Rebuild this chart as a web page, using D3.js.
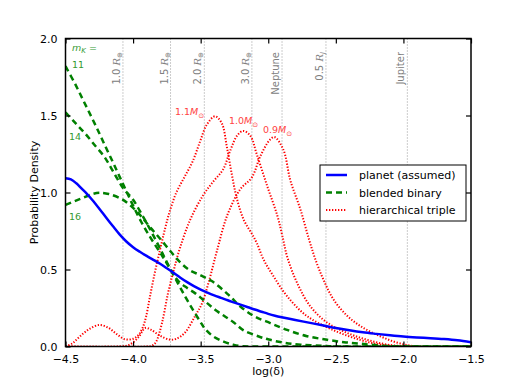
<!DOCTYPE html>
<html><head><meta charset="utf-8">
<script src="https://cdn.jsdelivr.net/npm/d3@7"></script>
<style>body{margin:0;background:#fff}svg{display:block}text{font-family:"DejaVu Sans",sans-serif}</style>
</head><body><svg id="c" width="526" height="386"></svg>
<script>
// ---- data ----
const xTicks = [-4.5, -4.0, -3.5, -3.0, -2.5, -2.0, -1.5];
const yTicks = [0.0, 0.5, 1.0, 1.5, 2.0];
const planet = [[-4.5,1.093],[-4.46,1.085],[-4.42,1.06],[-4.38,1.025],[-4.34,0.99],[-4.3,0.95],[-4.25,0.895],[-4.2,0.838],[-4.15,0.782],[-4.1,0.728],[-4.05,0.682],[-4.0,0.645],[-3.95,0.615],[-3.9,0.588],[-3.85,0.563],[-3.8,0.537],[-3.75,0.508],[-3.7,0.478],[-3.65,0.447],[-3.6,0.418],[-3.55,0.392],[-3.5,0.37],[-3.45,0.35],[-3.4,0.332],[-3.35,0.316],[-3.3,0.3],[-3.25,0.285],[-3.2,0.27],[-3.15,0.255],[-3.1,0.24],[-3.05,0.226],[-3.0,0.212],[-2.95,0.2],[-2.9,0.19],[-2.8,0.172],[-2.7,0.155],[-2.6,0.138],[-2.5,0.12],[-2.4,0.105],[-2.3,0.092],[-2.2,0.082],[-2.1,0.073],[-2.0,0.065],[-1.9,0.059],[-1.8,0.054],[-1.7,0.048],[-1.6,0.04],[-1.5,0.028]];
const binary11 = [[-4.5,1.82],[-4.426,1.70],[-4.364,1.59],[-4.302,1.48],[-4.25,1.385],[-4.2,1.29],[-4.151,1.2],[-4.114,1.13],[-4.077,1.06],[-4.04,0.99],[-4.0,0.915],[-3.94,0.81],[-3.87,0.705],[-3.8,0.61],[-3.765,0.56],[-3.716,0.49],[-3.653,0.385],[-3.579,0.27],[-3.505,0.164],[-3.468,0.115],[-3.406,0.065],[-3.33,0.032],[-3.26,0.012],[-3.2,0.002],[-3.1,0],[-2.5,0],[-1.5,0]];
const binary14 = [[-4.5,1.52],[-4.426,1.45],[-4.352,1.38],[-4.277,1.3],[-4.215,1.235],[-4.166,1.165],[-4.117,1.09],[-4.067,1.02],[-4.005,0.96],[-3.95,0.88],[-3.88,0.77],[-3.82,0.67],[-3.76,0.565],[-3.71,0.48],[-3.66,0.42],[-3.6,0.38],[-3.54,0.345],[-3.49,0.31],[-3.443,0.275],[-3.38,0.23],[-3.32,0.195],[-3.257,0.158],[-3.183,0.105],[-3.07,0.065],[-2.996,0.045],[-2.88,0.024],[-2.76,0.012],[-2.6,0.004],[-2.5,0],[-2.0,0],[-1.5,0]];
const binary16 = [[-4.5,0.92],[-4.4,0.955],[-4.3,0.99],[-4.25,0.998],[-4.18,0.99],[-4.08,0.955],[-4.0,0.9],[-3.94,0.845],[-3.87,0.77],[-3.8,0.7],[-3.72,0.615],[-3.65,0.545],[-3.58,0.495],[-3.5,0.462],[-3.418,0.425],[-3.3,0.34],[-3.2,0.255],[-3.1,0.195],[-2.985,0.152],[-2.861,0.108],[-2.713,0.067],[-2.565,0.044],[-2.44,0.028],[-2.317,0.018],[-2.17,0.006],[-2.0,0],[-1.5,0]];
const triple11 = [[-4.5,0],[-4.45,0.02],[-4.4,0.06],[-4.33,0.11],[-4.25,0.14],[-4.18,0.12],[-4.12,0.08],[-4.06,0.047],[-4.0,0.05],[-3.96,0.075],[-3.93,0.12],[-3.905,0.19],[-3.876,0.32],[-3.839,0.48],[-3.8,0.63],[-3.765,0.76],[-3.728,0.88],[-3.68,1.0],[-3.62,1.1],[-3.56,1.2],[-3.505,1.33],[-3.455,1.44],[-3.394,1.495],[-3.344,1.45],[-3.307,1.3],[-3.27,1.12],[-3.232,0.96],[-3.18,0.82],[-3.12,0.73],[-3.084,0.67],[-3.035,0.565],[-2.961,0.456],[-2.861,0.327],[-2.713,0.197],[-2.515,0.105],[-2.317,0.042],[-2.168,0.012],[-2.02,0],[-1.5,0]];
const triple10 = [[-4.5,0],[-3.9,0],[-3.86,0.005],[-3.83,0.03],[-3.787,0.15],[-3.743,0.34],[-3.698,0.5],[-3.653,0.64],[-3.579,0.82],[-3.483,0.98],[-3.408,1.07],[-3.334,1.15],[-3.282,1.27],[-3.23,1.37],[-3.186,1.4],[-3.134,1.37],[-3.082,1.24],[-3.007,1.04],[-2.933,0.85],[-2.896,0.72],[-2.859,0.58],[-2.785,0.41],[-2.688,0.26],[-2.562,0.154],[-2.413,0.087],[-2.265,0.043],[-2.116,0.012],[-1.95,0],[-1.5,0]];
const triple09 = [[-4.5,0],[-4.1,0],[-4.03,0.01],[-3.96,0.06],[-3.91,0.12],[-3.87,0.11],[-3.8,0.07],[-3.73,0.045],[-3.68,0.05],[-3.616,0.09],[-3.542,0.197],[-3.49,0.28],[-3.44,0.42],[-3.38,0.62],[-3.304,0.85],[-3.208,1.02],[-3.12,1.1],[-3.059,1.235],[-2.99,1.34],[-2.955,1.36],[-2.889,1.28],[-2.837,1.08],[-2.762,0.89],[-2.70,0.7],[-2.651,0.565],[-2.592,0.435],[-2.517,0.305],[-2.413,0.197],[-2.295,0.12],[-2.168,0.065],[-2.042,0.024],[-1.9,0],[-1.5,0]];
const refLines = [-4.075, -3.723, -3.473, -3.121, -2.898, -2.573, -1.971];
const refNum = ["1.0 ", "1.5 ", "2.0 ", "3.0 ", "Neptune", "0.5 ", "Jupiter"];
const refSub = ["⊕", "⊕", "⊕", "⊕", "", "J", ""];
const massLabels = ["1.1", "1.0", "0.9"];
const magLabels = ["11", "14", "16"];
const legendLabels = ["planet (assumed)", "blended binary", "hierarchical triple"];

// ---- drawing ----
const svg = d3.select("#c");
const L = 65.5, R = 471, T = 38.5, B = 346.5;
const x = d3.scaleLinear().domain([-4.5, -1.5]).range([L, R]);
const y = d3.scaleLinear().domain([0, 2]).range([B, T]);
svg.append("clipPath").attr("id","cp").append("rect").attr("x",L).attr("y",T).attr("width",R-L).attr("height",B-T);

// reference lines
const gRef = svg.append("g");
refLines.forEach((v, i) => {
  gRef.append("line").attr("x1", x(v)).attr("x2", x(v)).attr("y1", T).attr("y2", B)
    .attr("stroke", "#999").attr("stroke-width", 1).attr("stroke-dasharray", "1,2");
  const t = gRef.append("text").attr("transform", `translate(${x(v) - 3},52) rotate(-90)`)
    .attr("text-anchor", "end").attr("fill", "#808080").attr("font-size", 10);
  t.append("tspan").text(refNum[i]);
  if (refSub[i] !== "") {
    t.append("tspan").attr("font-family", "DejaVu Serif").attr("font-style", "italic").text("R");
    t.append("tspan").attr("font-size", 7).attr("dy", 2).attr("font-family", "DejaVu Sans")
      .attr("font-style", refSub[i] === "J" ? "italic" : "normal").text(refSub[i]);
  }
});

const line = d3.line().x(d => x(d[0])).y(d => y(d[1])).curve(d3.curveCatmullRom.alpha(0.5));
const gL = svg.append("g").attr("clip-path", "url(#cp)");
[triple11, triple10, triple09].forEach(s => gL.append("path").attr("d", line(s)).attr("fill", "none")
  .attr("stroke", "#ff0000").attr("stroke-width", 2).attr("stroke-dasharray", "1.3,1.7"));
[binary11, binary14, binary16].forEach(s => gL.append("path").attr("d", line(s)).attr("fill", "none")
  .attr("stroke", "#008000").attr("stroke-width", 2.5).attr("stroke-dasharray", "6,4"));
gL.append("path").attr("d", line(planet)).attr("fill", "none").attr("stroke", "#0000ff").attr("stroke-width", 2.5);

// axes
const tk = 5;
svg.append("g").attr("transform", `translate(0,${B})`)
  .call(d3.axisBottom(x).tickValues(xTicks).tickSize(-tk).tickPadding(9).tickFormat(d3.format(".1f")))
  .call(g => { g.select(".domain").remove(); g.selectAll("text").attr("font-size", 11).attr("fill","#000").attr("font-family","DejaVu Sans"); });
svg.append("g").attr("transform", `translate(0,${T})`)
  .call(d3.axisTop(x).tickValues(xTicks).tickSize(-tk).tickFormat(""))
  .call(g => g.select(".domain").remove());
svg.append("g").attr("transform", `translate(${L},0)`)
  .call(d3.axisLeft(y).tickValues(yTicks).tickSize(-tk).tickPadding(8).tickFormat(d3.format(".1f")))
  .call(g => { g.select(".domain").remove(); g.selectAll("text").attr("font-size", 11).attr("fill","#000").attr("font-family","DejaVu Sans"); });
svg.append("g").attr("transform", `translate(${R},0)`)
  .call(d3.axisRight(y).tickValues(yTicks).tickSize(-tk).tickFormat(""))
  .call(g => g.select(".domain").remove());
svg.selectAll(".tick line").attr("stroke", "#000").attr("stroke-width", 1.2);
svg.append("rect").attr("x", L).attr("y", T).attr("width", R - L).attr("height", B - T)
  .attr("fill", "none").attr("stroke", "#000").attr("stroke-width", 1.5);

svg.append("text").attr("x", (L + R) / 2).attr("y", 375).attr("text-anchor", "middle").attr("font-size", 11)
  .text("log(δ)");
svg.append("text").attr("transform", `translate(38,${(T + B) / 2}) rotate(-90)`).attr("text-anchor", "middle")
  .attr("font-size", 11).text("Probability Density");

// mass labels
const massPos = [[175, 115], [229, 124], [263, 133]];
massLabels.forEach((m, i) => {
  const t = svg.append("text").attr("x", massPos[i][0]).attr("y", massPos[i][1]).attr("fill", "#ff4444")
    .attr("font-family", "DejaVu Serif").attr("font-size", 9.5);
  t.append("tspan").text(m);
  t.append("tspan").attr("font-style", "italic").text("M");
  t.append("tspan").attr("font-size", 7).attr("dy", 3).text("⊙");
});

// magnitude labels
const gm = svg.append("g").attr("fill", "#339933").attr("font-family", "DejaVu Serif").attr("font-size", 9.5);
const mk = gm.append("text").attr("x", 72).attr("y", 51);
mk.append("tspan").attr("font-style", "italic").text("m");
mk.append("tspan").attr("font-style", "italic").attr("font-size", 7).attr("dy", 2).text("K");
mk.append("tspan").attr("dy", -2).text(" =");
const magY = [68, 140, 220];
magLabels.forEach((m, i) => gm.append("text").attr("x", i === 0 ? 72 : 69).attr("y", magY[i]).text(m));

// legend
const lg = svg.append("g");
lg.append("rect").attr("x", 320).attr("y", 165).attr("width", 146).attr("height", 56)
  .attr("fill", "#fff").attr("stroke", "#000").attr("stroke-width", 1);
const lgStyle = [["#0000ff", 2.5, null], ["#008000", 2.5, "6,4"], ["#ff0000", 2, "1.3,1.7"]];
legendLabels.forEach((s, i) => {
  const yy = 175 + i * 17.5;
  lg.append("line").attr("x1", 326).attr("x2", 347).attr("y1", yy).attr("y2", yy)
    .attr("stroke", lgStyle[i][0]).attr("stroke-width", lgStyle[i][1]).attr("stroke-dasharray", lgStyle[i][2]);
  lg.append("text").attr("x", 359).attr("y", yy + 4).attr("font-size", 11).text(s);
});
</script></body></html>
